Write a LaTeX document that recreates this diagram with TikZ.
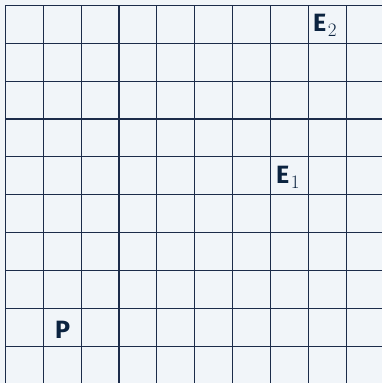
\documentclass[tikz,border=0pt]{standalone}
\usepackage{fontspec}
\setsansfont{Fira Sans}
\newcommand{\subsc}[1]{\kern1.5pt\raisebox{-5pt}{\fontsize{19}{19}\selectfont\rmfamily\mdseries #1}}
\begin{document}
\begin{tikzpicture}[x=1pt,y=-1pt,
  gridline/.style={draw=ln,line width=1.15pt},
  lbl/.style={text=tx,anchor=base west,inner sep=0pt,font=\fontsize{25}{25}\selectfont\sffamily\bfseries}]
\definecolor{bg}{HTML}{F1F5F9}
\definecolor{ln}{HTML}{1C2C4A}
\definecolor{tx}{HTML}{0B2340}
\useasboundingbox (0,0) rectangle (382,383);
\fill[bg] (0,0) rectangle (382,383);
\clip (0,0) rectangle (382,383);
\foreach \i in {0,...,10} {
  \draw[gridline] ({5.3+37.9*\i},5.3) -- ({5.3+37.9*\i},390);
  \draw[gridline] (5.3,{5.3+37.9*\i}) -- (390,{5.3+37.9*\i});
}
\node[lbl] (E2) at (313,31) {E\subsc{2}};
\node[lbl] (E1) at (276,183) {E\subsc{1}};
\node[lbl] (P) at (55,338) {P};
\end{tikzpicture}
\end{document}
